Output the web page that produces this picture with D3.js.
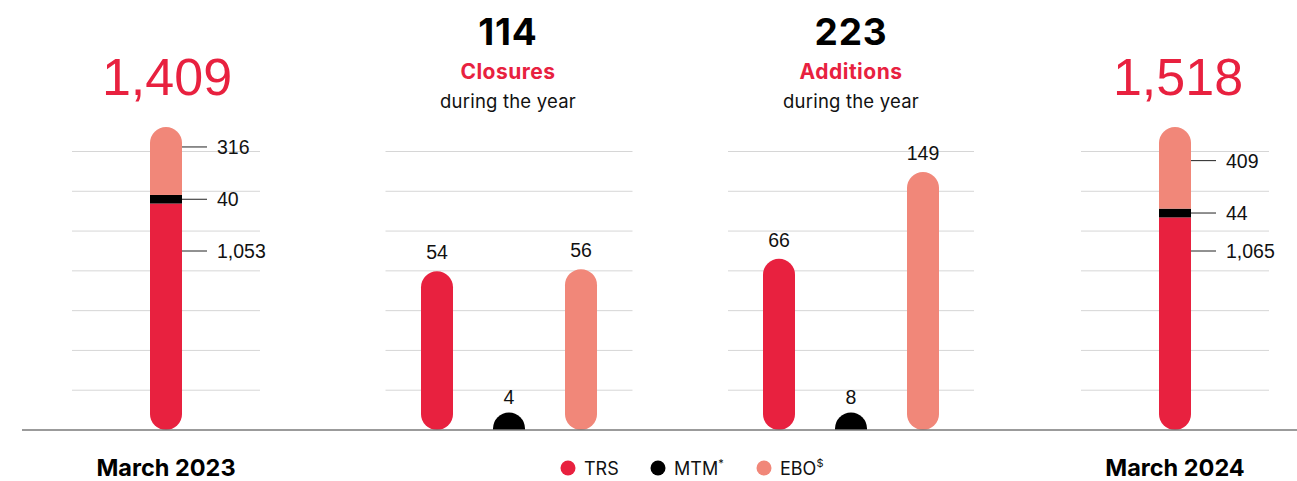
<!DOCTYPE html>
<html>
<head>
<meta charset="utf-8">
<script src="https://cdn.jsdelivr.net/npm/d3@7"></script>
<style>
  html, body { margin: 0; padding: 0; background: #fff; }
  svg { display: block; }
</style>
</head>
<body>
<div id="chart"></div>
<script>
// ---------- data ----------
const stockCategories = ["March 2023", "March 2024"];
const trsStock = [1053, 1065];
const mtmStock = [40, 44];
const eboStock = [316, 409];

const flowCategories = ["Closures", "Additions"];
const trsFlow = [54, 66];
const mtmFlow = [4, 8];
const eboFlow = [56, 149];

const seriesNames = ["TRS", "MTM", "EBO"];
const seriesMarks = ["", "*", "$"];
const flowSubtitle = "during the year";

// ---------- setup ----------
const W = 1297, H = 481;
const RED = "#E8213F", BLACK = "#000000", SALMON = "#F18779";
const colors = d3.scaleOrdinal().domain(seriesNames).range([RED, BLACK, SALMON]);
const numFmt = d3.format(",");
const labelFont = "'Liberation Sans', Arial, sans-serif";
const headFont = "Inter, 'Noto Sans', sans-serif";

const svg = d3.select("#chart").append("svg").attr("width", W).attr("height", H);

const panels = ["s0", "f0", "f1", "s1"];
const panelX = d3.scaleOrdinal().domain(panels).range([166, 509, 851, 1175]);
const headX = d3.scaleOrdinal().domain(panels).range([167, 508, 851, 1178]);
const gridHalf = d3.scaleOrdinal().domain(panels).range([94, 123.5, 123, 94]);

const baseY = 430;
const gridScale = d3.scaleLinear().domain([0, 7]).range([baseY, 151.5]);
const gridTicks = d3.range(1, 8);

// gridlines
panels.forEach(p => {
  svg.append("g").selectAll("line").data(gridTicks).join("line")
    .attr("x1", panelX(p) - gridHalf(p)).attr("x2", panelX(p) + gridHalf(p))
    .attr("y1", d => gridScale(d)).attr("y2", d => gridScale(d))
    .attr("stroke", "#d6d6d6").attr("stroke-width", 1);
});

const barW = 32;
const valSize = 19.5;

// ---------- stacked stock bars ----------
const stockTop = 127;
stockCategories.forEach((cat, i) => {
  const p = "s" + i;
  const cx = panelX(p);
  const vals = [trsStock[i], mtmStock[i], eboStock[i]];
  const total = d3.sum(vals);
  const y = d3.scaleLinear().domain([0, total]).range([baseY, stockTop]);
  const stack = d3.cumsum(vals);
  const segs = vals.map((v, k) => ({ name: seriesNames[k], v, y0: stack[k] - v, y1: stack[k] }));

  const clipId = "clip" + i;
  svg.append("clipPath").attr("id", clipId)
    .append("rect")
    .attr("x", cx - barW / 2).attr("y", y(total))
    .attr("width", barW).attr("height", y(0) - y(total))
    .attr("rx", barW / 2).attr("ry", barW / 2);

  const g = svg.append("g").attr("clip-path", `url(#${clipId})`);
  g.selectAll("rect").data(segs).join("rect")
    .attr("x", cx - barW / 2).attr("width", barW)
    .attr("y", d => y(d.y1)).attr("height", d => y(d.y0) - y(d.y1))
    .attr("fill", d => colors(d.name));

  // leader labels
  const blackTop = y(segs[1].y1), blackBot = y(segs[1].y0);
  const labelYs = [stockTop + 124, (blackTop + blackBot) / 2, blackTop - 48];
  const lg = svg.append("g");
  segs.forEach((d, k) => {
    lg.append("line")
      .attr("x1", cx + barW / 2).attr("x2", cx + barW / 2 + 25)
      .attr("y1", labelYs[k]).attr("y2", labelYs[k])
      .attr("stroke", "#222").attr("stroke-width", 1);
    lg.append("text")
      .attr("x", cx + barW / 2 + 35).attr("y", labelYs[k]).attr("dy", "0.36em")
      .attr("font-family", labelFont).attr("font-size", valSize).attr("fill", "#111")
      .text(numFmt(d.v));
  });

  // header total
  svg.append("text")
    .attr("x", headX(p)).attr("y", 95).attr("text-anchor", "middle")
    .attr("font-family", labelFont).attr("font-size", 52).attr("fill", RED)
    .text(numFmt(total));

  // category label
  svg.append("text")
    .attr("x", cx).attr("y", 476).attr("text-anchor", "middle")
    .attr("font-family", headFont).attr("font-weight", 700).attr("font-size", 23.5).attr("fill", "#000")
    .text(cat);
});

// ---------- flow bars ----------
const flowY = d3.scaleLinear().domain([-98, 149]).range([baseY, 172]);
const seriesOffset = d3.scalePoint().domain(seriesNames).range([-72, 72]);
const dotR = 16;

flowCategories.forEach((cat, i) => {
  const p = "f" + i;
  const cx = panelX(p);
  const vals = [trsFlow[i], mtmFlow[i], eboFlow[i]];
  const items = vals.map((v, k) => ({ name: seriesNames[k], v }));
  const g = svg.append("g");

  items.forEach(d => {
    const x = cx + seriesOffset(d.name);
    if (d.name === "MTM") {
      g.append("clipPath").attr("id", "dc" + i)
        .append("rect").attr("x", x - dotR - 2).attr("y", baseY - 40).attr("width", dotR * 2 + 4).attr("height", 40);
      g.append("circle")
        .attr("cx", x).attr("cy", baseY - 1.5).attr("r", dotR)
        .attr("fill", colors(d.name)).attr("clip-path", `url(#dc${i})`);
      g.append("text")
        .attr("x", x).attr("y", baseY - 1.5 - dotR - 9).attr("text-anchor", "middle")
        .attr("font-family", labelFont).attr("font-size", valSize).attr("fill", "#111")
        .text(numFmt(d.v));
    } else {
      const top = flowY(d.v);
      g.append("rect")
        .attr("x", x - barW / 2).attr("width", barW)
        .attr("y", top).attr("height", baseY - top)
        .attr("rx", barW / 2).attr("ry", barW / 2)
        .attr("fill", colors(d.name));
      g.append("text")
        .attr("x", x).attr("y", top - 12).attr("text-anchor", "middle")
        .attr("font-family", labelFont).attr("font-size", valSize).attr("fill", "#111")
        .text(numFmt(d.v));
    }
  });

  const hx = headX(p);
  svg.append("text")
    .attr("x", hx).attr("y", 45).attr("text-anchor", "middle")
    .attr("font-family", headFont).attr("font-weight", 700).attr("font-size", 37)
    .attr("letter-spacing", 0.8).attr("fill", "#000")
    .text(numFmt(d3.sum(vals)));
  svg.append("text")
    .attr("x", hx).attr("y", 79).attr("text-anchor", "middle")
    .attr("font-family", headFont).attr("font-weight", 700).attr("font-size", 21)
    .attr("letter-spacing", 0.5).attr("fill", RED)
    .text(cat);
  svg.append("text")
    .attr("x", hx).attr("y", 108).attr("text-anchor", "middle")
    .attr("font-family", headFont).attr("font-weight", 400).attr("font-size", 18.5)
    .attr("letter-spacing", 0.2).attr("fill", "#111")
    .text(flowSubtitle);
});

// baseline
svg.append("line")
  .attr("x1", 22).attr("x2", W).attr("y1", baseY).attr("y2", baseY)
  .attr("stroke", "#7a7a7a").attr("stroke-width", 1.5);

// ---------- legend ----------
const legendX = d3.scaleOrdinal().domain(seriesNames).range([568, 658, 764]);
const lg = svg.append("g");
seriesNames.forEach((s, k) => {
  const x = legendX(s);
  lg.append("circle").attr("cx", x).attr("cy", 468).attr("r", 7.5).attr("fill", colors(s));
  const t = lg.append("text")
    .attr("x", x + 16).attr("y", 474.5)
    .attr("font-family", headFont).attr("font-size", 18).attr("fill", "#111");
  t.append("tspan").text(s);
  if (seriesMarks[k]) {
    t.append("tspan").attr("font-size", 11).attr("dy", -8).text(seriesMarks[k]);
  }
});
</script>
</body>
</html>
